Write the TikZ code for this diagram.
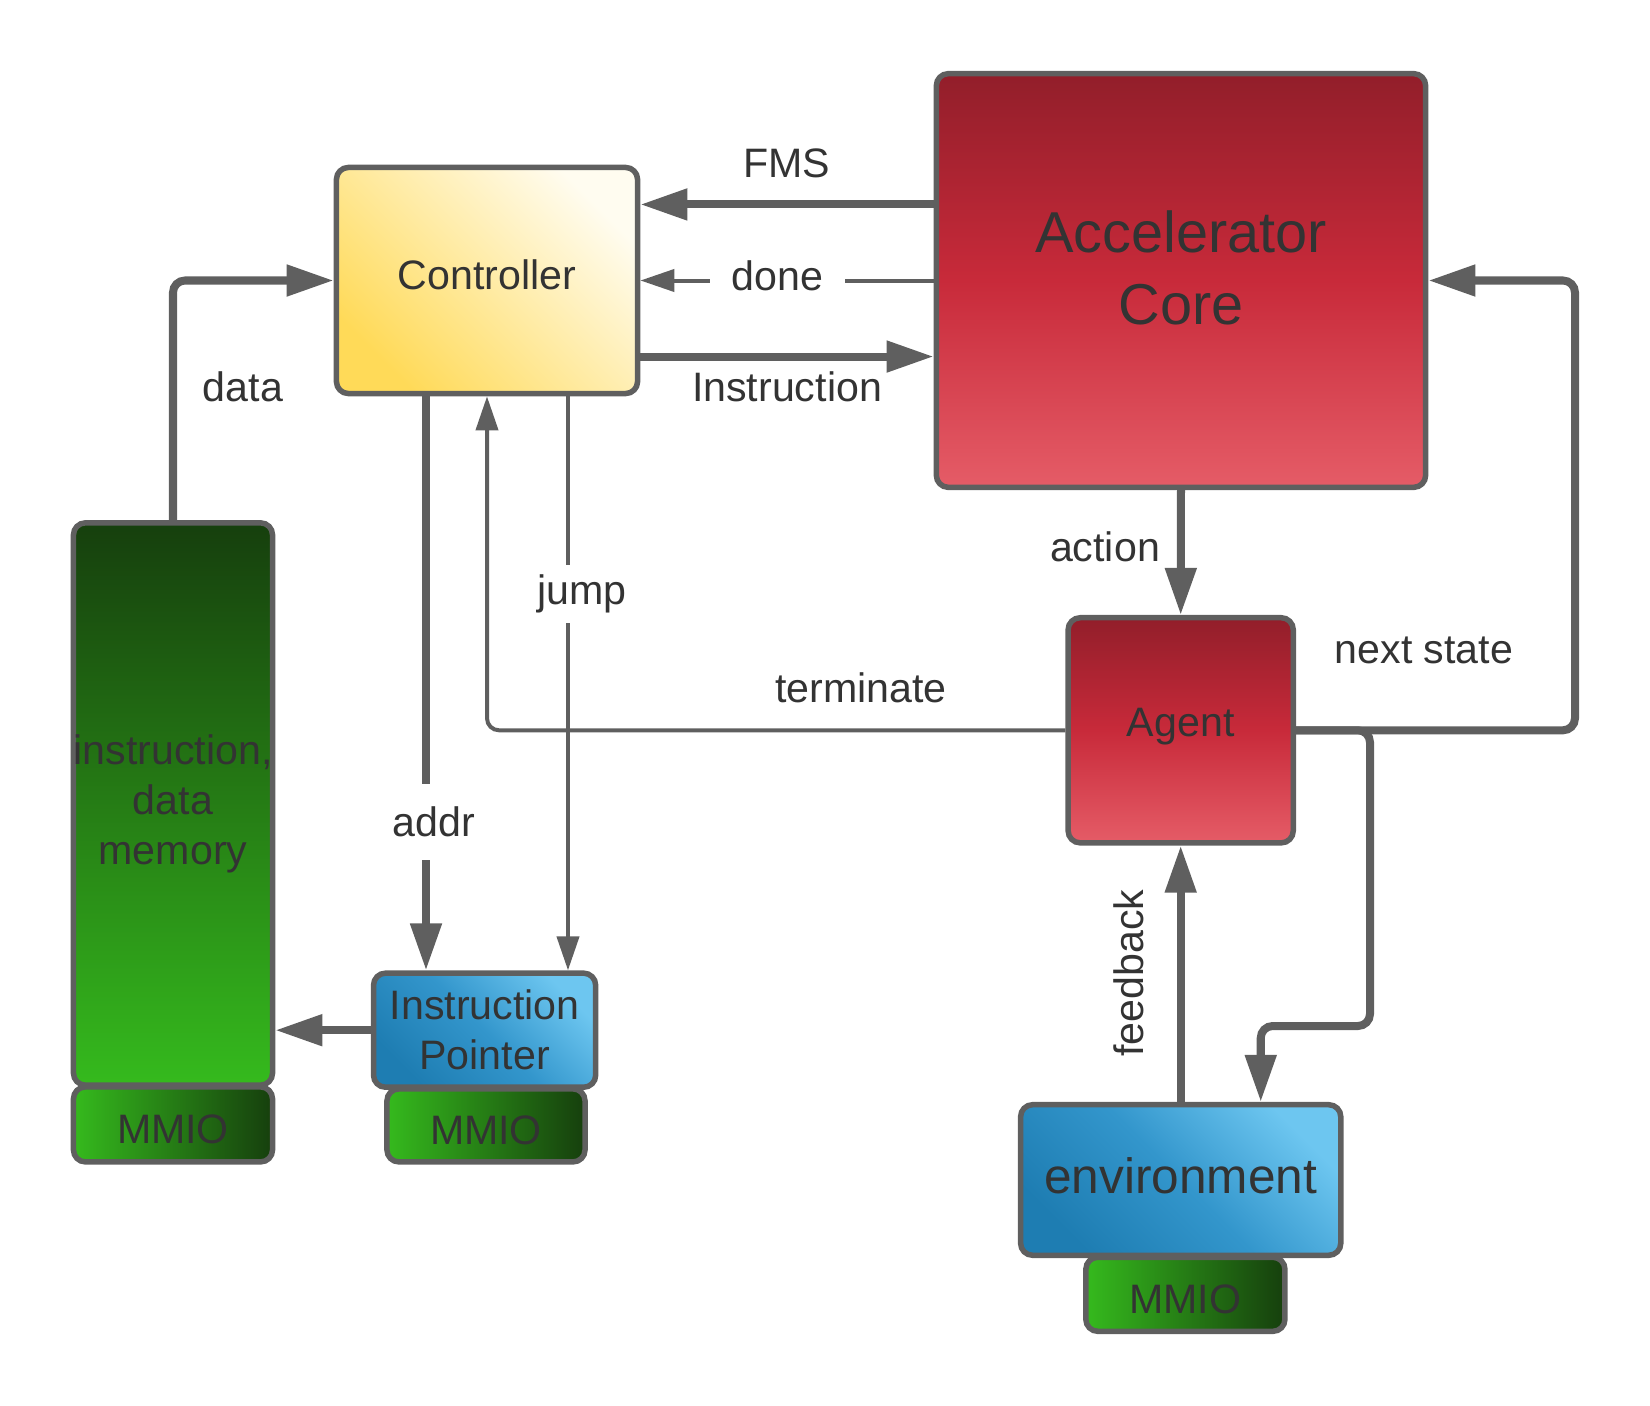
\documentclass[tikz,border=0pt]{standalone}
\usepackage{fontspec}
\setmainfont{Liberation Sans}
\usetikzlibrary{arrows.meta}
\definecolor{linegray}{HTML}{5F5F5F}
\definecolor{txtgray}{HTML}{333333}
\definecolor{redtop}{HTML}{921E2A}
\definecolor{redmid}{HTML}{C82A3A}
\definecolor{redbot}{HTML}{E55C67}
\definecolor{greendark}{HTML}{163F0D}
\definecolor{greenlight}{HTML}{35BA1D}
\definecolor{bluedark}{HTML}{1E7DB2}
\definecolor{bluemid}{HTML}{3396CC}
\definecolor{bluelight}{HTML}{6DC6F0}
\definecolor{yellowdeep}{HTML}{FFDA58}
\definecolor{yellowpale}{HTML}{FFFCF0}
\begin{document}
\begin{tikzpicture}[x=0.01cm,y=-0.01cm,
    font=\fontsize{11.7}{14.2}\selectfont, text=txtgray,
    box/.style={draw=linegray, line width=0.055cm, rounded corners=0.12cm, inner sep=0pt, align=center},
    yellowbox/.style={box, bottom color=yellowdeep, top color=yellowpale, shading angle=-45},
    redbox/.style={box, top color=redtop, bottom color=redbot, middle color=redmid},
    bluebox/.style={box, bottom color=bluedark, top color=bluelight, middle color=bluemid, shading angle=-45},
    greenbox/.style={box, top color=greendark, bottom color=greenlight},
    mmio/.style={box, left color=greenlight, right color=greendark, text height=0.38cm},
    thickline/.style={draw=linegray, line width=0.08cm, rounded corners=0.12cm, -{Triangle[length=0.47cm,width=0.3cm]}},
    thinline/.style={draw=linegray, line width=0.04cm, rounded corners=0.12cm, -{Triangle[length=0.34cm,width=0.22cm]}},
    gaplabel/.style={fill=white, inner xsep=0.05cm}]
    \useasboundingbox (0,0) rectangle (1650,1406);

    % blocks
    \node [yellowbox, minimum width=3.01cm, minimum height=2.26cm, text depth=0.12cm] (ctrl) at (487,280.5) {Controller};
    \node [redbox, minimum width=4.89cm, minimum height=4.135cm, text depth=0.26cm, font=\fontsize{16.4}{20.3}\selectfont] (accel) at (1181,280.5) {Accelerator\\Core};
    \node [redbox, minimum width=2.25cm, minimum height=2.25cm, text depth=0.16cm] (agent) at (1180.7,730.3) {Agent};
    \node [mmio, minimum width=1.99cm, minimum height=0.74cm] (envmmio) at (1185.4,1294.3) {MMIO};
    \node [bluebox, minimum width=3.2cm, minimum height=1.505cm, text depth=0.08cm, font=\fontsize{14.1}{17}\selectfont] (env) at (1180.7,1180) {environment};
    \node [mmio, minimum width=1.99cm, minimum height=0.75cm] (memmmio) at (173,1124.4) {MMIO};
    \node [greenbox, minimum width=1.99cm, minimum height=5.62cm] (mem) at (173,804) {instruction,\\data\\memory};
    \node [mmio, minimum width=1.98cm, minimum height=0.73cm] (ipmmio) at (486,1125.4) {MMIO};
    \node [bluebox, minimum width=2.22cm, minimum height=1.14cm] (ip) at (484.6,1030.2) {Instruction\\Pointer};

    % connectors
    \coordinate (addrx) at (426,0);
    \coordinate (jumpx) at (568,0);
    \coordinate (nsx) at (1575,0);
    \coordinate (envbend) at (1370,1026);
    \draw [thickline] ([yshift=0.76cm]accel.west) -- ([yshift=0.76cm]ctrl.east);
    \draw [thinline] (accel.west) -- (ctrl.east);
    \draw [thickline] ([yshift=-0.76cm]ctrl.east) -- ([yshift=-0.76cm]accel.west);
    \draw [thickline] (mem.north) |- (ctrl.west);
    \draw [thinline] (agent.west) -| (ctrl.south);
    \draw [thickline] (ctrl.south -| addrx) -- (ip.north -| addrx);
    \draw [thinline] (ctrl.south -| jumpx) -- (ip.north -| jumpx);
    \draw [thickline] (ip.west) -- (ip.west -| mem.east);
    \draw [thickline] (accel.south) -- (agent.north);
    \draw [thickline] (env.north) -- (agent.south);
    \draw [thickline] (agent.east) -- (agent.east -| nsx) |- (accel.east);
    \draw [thickline] (agent.east) -| (envbend) -| ([xshift=0.8cm]env.north);

    % labels
    \node (fmslbl) at (787,163) {FMS};
    \node [gaplabel, inner xsep=0.215cm] (donelbl) at (777.5,276) {done};
    \node (instlbl) at (787,387) {Instruction};
    \node (datalbl) at (243,387) {data};
    \node [gaplabel, inner ysep=0.23cm] (addrlbl) at (434,822) {addr};
    \node [gaplabel, inner ysep=0.1cm] (jumplbl) at (582,594) {jump};
    \node (actlbl) at (1105,547) {action};
    \node (termlbl) at (861,688) {terminate};
    \node (nslbl) at (1424,650) {next state};
    \node [rotate=90] (fblbl) at (1129,973) {feedback};
\end{tikzpicture}
\end{document}
